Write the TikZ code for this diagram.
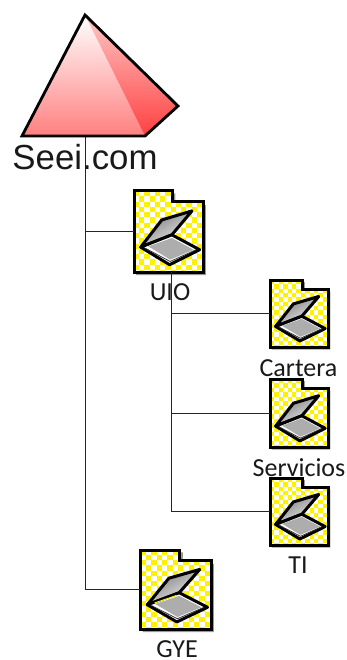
\documentclass[tikz,border=0pt]{standalone}
\usepackage{fontspec}
\setmainfont{Carlito}
\newfontfamily\rootfont{Liberation Sans}
\tikzset{
  x=1pt,y=-1pt,
  conn/.style={draw=black!85,line width=0.7pt},
  lbl/.style={inner sep=0pt,font=\fontsize{26}{28}\selectfont,text=black!90},
  rootlbl/.style={inner sep=0pt,font=\rootfont\fontsize{34.8}{38}\selectfont,text=black!90},
  outline/.style={draw=black,line width=3pt,line join=miter},
  scanline/.style={draw=black,line width=3pt,line join=round},
}
\definecolor{lidtop}{HTML}{F4F4F4}
\definecolor{lidbot}{HTML}{7A7A7A}
% name, left, top, width, height, extra
\newcommand{\folderpic}[6]{%
  \begin{scope}[shift={(#2,#3)},x=#4/100*1pt,y=-#5/100*1pt]
    \path[fill=black!40] (3,3)--(60,3)--(60,17.5)--(104,17.5)--(104,104)--(3,104)--cycle;
    \begin{scope}
      \clip (0,0)--(56,0)--(56,13.5)--(100,13.5)--(100,100)--(0,100)--cycle;
      \fill[white] (0,0) rectangle (100,100);
      \foreach \i in {0,...,13}{\foreach \j in {0,...,15}{%
        \pgfmathparse{int(mod(\i+\j,2))}%
        \ifnum\pgfmathresult=0
          \fill[yellow] (\i*7.6,\j*6.5) rectangle ({(\i+1)*7.6},{(\j+1)*6.5});
        \fi}}
    \end{scope}
    \path[outline] (0,0)--(56,0)--(56,13.5)--(100,13.5)--(100,100)--(0,100)--cycle;
    \path[scanline,top color=lidtop,bottom color=lidbot,shading angle=-150] (9.7,69.3)--(40.3,35.7)--(84,24.6)--(54.9,54.1)--cycle;
    \path[scanline,fill=white] (9.7,69.3)--(54.9,54.1)--(95.1,72.5)--(51.5,91)--cycle;
    \path[fill=black!32] (20.9,68.4)--(54.9,58)--(86.4,72.5)--(52.4,84.8)--cycle;
    \path[draw=black!80,line width=0.8pt] (16,70.5)--(52.4,87)--(90,72.5);
    #6
  \end{scope}%
  \node[inner sep=0pt,minimum width=#4*1pt,minimum height=#5*1pt,rectangle] (#1) at ({#2+#4/2},{#3+#5/2}) {};
}
\begin{document}
\begin{tikzpicture}
\useasboundingbox (0,0) rectangle (347,660);
\fill[white] (0,0) rectangle (347,660);
\coordinate (apex) at (85,15);
\coordinate (pl) at (22,136);
\coordinate (pb) at (145,136);
\coordinate (pr) at (178,106);
\coordinate (stem) at (85,136);
\coordinate (stemb) at (171,272);
% connectors
\folderpic{uio}{134}{191}{69}{81}{}
\folderpic{cartera}{270}{280}{58}{67}{}
\folderpic{servicios}{270}{379}{58}{68}{}
\folderpic{ti}{270}{478}{58}{67}{}
\folderpic{gye}{140.5}{550}{70.5}{79}{\path[draw=yellow,line width=0.9pt] (20,67)--(51,57.5);}
\draw[conn] (stem) |- (uio.west);
\draw[conn] (stem) |- (gye.west);
\draw[conn] (stemb) |- (cartera.west);
\draw[conn] (stemb) |- (servicios.west);
\draw[conn] (stemb) |- (ti.west);
% pyramid
\path[top color=white,bottom color=red!50!white] (apex)--(pl)--(pb)--cycle;
\path[top color=red!22!white,bottom color=red!75!white] (apex)--(pr)--(pb)--cycle;
\path[draw=black,line width=2.8pt,line join=miter] (apex)--(pr)--(pb)--(pl)--cycle;
% labels
\node[rootlbl] (seei) at (85,157) {Seei.com};
\node[lbl] (luio) at (170,292) {UIO};
\node[lbl] (lcartera) at (298.5,368) {Cartera};
\node[lbl] (lserv) at (299,468) {Servicios};
\node[lbl] (lti) at (298,565) {TI};
\node[lbl] (lgye) at (177,649.5) {GYE};
\end{tikzpicture}
\end{document}
